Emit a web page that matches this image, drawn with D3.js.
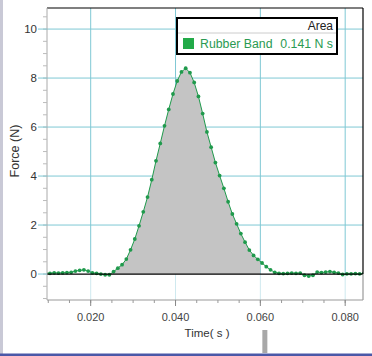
<!DOCTYPE html>
<html><head><meta charset="utf-8">
<script src="https://cdn.jsdelivr.net/npm/d3@7/dist/d3.min.js"></script>
<style>
html,body{margin:0;padding:0;background:#fff;}
svg{display:block;font-family:"Liberation Sans",Arial,sans-serif;}
</style></head>
<body>
<script>
// ---- data ----
const times = [0.0094,0.0104,0.0114,0.0124,0.0134,0.0144,0.0154,0.0164,0.0174,0.0184,
  0.0194,0.0204,0.0214,0.0224,0.0234,0.0244,0.0254,0.0264,0.0274,0.0284,
  0.0294,0.0304,0.0314,0.0324,0.0334,0.0344,0.0354,0.0364,0.0374,0.0384,
  0.0394,0.0404,0.0414,0.0424,0.0434,0.0444,0.0454,0.0464,0.0474,0.0484,
  0.0494,0.0504,0.0514,0.0524,0.0534,0.0544,0.0554,0.0564,0.0574,0.0584,
  0.0594,0.0604,0.0614,0.0624,0.0634,0.0644,0.0654,0.0664,0.0674,0.0684,
  0.0694,0.0704,0.0714,0.0724,0.0734,0.0744,0.0754,0.0764,0.0774,0.0784,
  0.0794,0.0804,0.0814,0.0824,0.0834,0.0844];
const force = [0.02,0.03,0.05,0.04,0.05,0.06,0.07,0.12,0.15,0.17,
  0.12,0.05,0.03,0.00,-0.03,-0.03,0.10,0.24,0.38,0.61,
  0.99,1.43,1.97,2.54,3.14,3.85,4.62,5.33,6.05,6.72,
  7.35,7.88,8.25,8.40,8.22,7.82,7.25,6.55,5.80,5.18,
  4.55,4.02,3.50,2.95,2.45,2.05,1.65,1.30,0.98,0.76,
  0.60,0.45,0.30,0.17,0.07,0.03,0.02,0.03,0.04,0.03,
  0.04,-0.05,-0.08,-0.05,0.08,0.06,0.08,0.10,0.07,0.04,
  -0.02,0.01,0.01,0.02,0.01,0.02];
const areaRange = [0.0244, 0.0600];
const xTicks = [0.020, 0.040, 0.060, 0.080];
const xTickLabels = ["0.020", "0.040", "0.060", "0.080"];
const yTicks = [0, 2, 4, 6, 8, 10];
const yTickLabels = ["0", "2", "4", "6", "8", "10"];
const seriesName = "Rubber Band";
const areaValue = "0.141 N s";
const legendTitle = "Area";
const xTitle = "Time( s )";
const yTitle = "Force (N)";

// ---- layout ----
const W = 372, H = 356;
const L = 47, R = 363, T = 8, B = 300;
const x = d3.scaleLinear().domain([0.0097, 0.0842]).range([L, R]);
const y = d3.scaleLinear().domain([-1.06, 10.86]).range([B, T]);
const data = times.map((t, i) => ({t, f: force[i]}));

const svg = d3.select("body").append("svg").attr("width", W).attr("height", H);
svg.append("rect").attr("width", W).attr("height", H).attr("fill", "#fff");

svg.append("defs").append("clipPath").attr("id", "plotclip")
  .append("rect").attr("x", L).attr("y", T).attr("width", R - L).attr("height", B - T);
svg.select("defs").append("clipPath").attr("id", "areaclip")
  .append("rect").attr("x", x(areaRange[0])).attr("y", T)
  .attr("width", x(areaRange[1]) - x(areaRange[0])).attr("height", B - T);

const gridColor = "#7fc8d4";
const plot = svg.append("g").attr("clip-path", "url(#plotclip)");

// vertical gridlines
plot.selectAll("line.vg").data(xTicks).join("line")
  .attr("x1", d => x(d)).attr("x2", d => x(d))
  .attr("y1", T).attr("y2", y(0)).attr("stroke", gridColor).attr("stroke-width", 1);
plot.selectAll("line.vg2").data(xTicks).join("line")
  .attr("x1", d => x(d)).attr("x2", d => x(d))
  .attr("y1", y(0)).attr("y2", B).attr("stroke", "#cfe9ef").attr("stroke-width", 1);
// horizontal gridlines
plot.selectAll("line.hg").data(yTicks.filter(d => d !== 0)).join("line")
  .attr("x1", L).attr("x2", R)
  .attr("y1", d => y(d)).attr("y2", d => y(d)).attr("stroke", gridColor).attr("stroke-width", 1);

// gray integral area
const inArea = data.filter(d => d.t >= areaRange[0] - 1e-9 && d.t <= areaRange[1] + 0.001);
plot.append("path").datum(inArea)
  .attr("clip-path", "url(#areaclip)")
  .attr("d", d3.area().x(d => x(d.t)).y0(y(0)).y1(d => y(d.f)))
  .attr("fill", "#c4c4c4");

// baseline
svg.append("line").attr("x1", L).attr("x2", R).attr("y1", y(0)).attr("y2", y(0))
  .attr("stroke", "#000").attr("stroke-width", 1.2);

// line + points
const green = "#1f9a4c";
plot.append("path").datum(data)
  .attr("d", d3.line().x(d => x(d.t)).y(d => y(d.f)))
  .attr("fill", "none").attr("stroke", green).attr("stroke-width", 1);
plot.selectAll("circle").data(data).join("circle")
  .attr("cx", d => x(d.t)).attr("cy", d => y(d.f)).attr("r", 1.9).attr("fill", green);

// frame
svg.append("line").attr("x1", L).attr("x2", R).attr("y1", T).attr("y2", T).attr("stroke", "#000").attr("stroke-width", 1.2);
svg.append("line").attr("x1", R).attr("x2", R).attr("y1", T).attr("y2", y(0)).attr("stroke", "#000").attr("stroke-width", 1.2);
svg.append("line").attr("x1", R).attr("x2", R).attr("y1", y(0)).attr("y2", B).attr("stroke", "#999").attr("stroke-width", 1.2);
svg.append("line").attr("x1", L).attr("x2", L).attr("y1", T).attr("y2", B).attr("stroke", "#aaa").attr("stroke-width", 1);
svg.append("line").attr("x1", L).attr("x2", R).attr("y1", B).attr("y2", B).attr("stroke", "#999").attr("stroke-width", 1.2);

// x axis ticks
const xMinor = d3.range(0.010, 0.0842, 0.005).filter(v => v >= x.domain()[0]);
svg.selectAll("line.xmin").data(xMinor).join("line")
  .attr("x1", d => x(d)).attr("x2", d => x(d)).attr("y1", B).attr("y2", B + 3)
  .attr("stroke", "#999");
svg.selectAll("line.xmaj").data(xTicks).join("line")
  .attr("x1", d => x(d)).attr("x2", d => x(d)).attr("y1", B).attr("y2", B + 6)
  .attr("stroke", "#888");
svg.selectAll("text.xt").data(xTicks).join("text")
  .attr("x", d => x(d)).attr("y", 321).attr("text-anchor", "middle")
  .attr("font-size", 11).attr("fill", "#444")
  .text((d, i) => xTickLabels[i]);
svg.append("text").attr("x", (L + R) / 2 + 2).attr("y", 337).attr("text-anchor", "middle")
  .attr("font-size", 11.5).attr("fill", "#333").style("white-space", "pre").text(xTitle);

// y axis ticks
const yMinor = d3.range(-1, 10.86, 0.5);
svg.selectAll("line.ymin").data(yMinor).join("line")
  .attr("x1", L - 4).attr("x2", L).attr("y1", d => y(d)).attr("y2", d => y(d))
  .attr("stroke", "#bbb");
svg.selectAll("line.ymaj").data(yTicks).join("line")
  .attr("x1", L - 9).attr("x2", L).attr("y1", d => y(d)).attr("y2", d => y(d))
  .attr("stroke", gridColor);
svg.selectAll("text.yt").data(yTicks).join("text")
  .attr("x", 37).attr("y", d => y(d) + 4).attr("text-anchor", "end")
  .attr("font-size", 11.5).attr("fill", "#333")
  .text((d, i) => yTickLabels[i]);
svg.append("text").attr("transform", `translate(19,${(T + B) / 2 - 3}) rotate(-90)`)
  .attr("text-anchor", "middle").attr("font-size", 12.5).attr("fill", "#333").text(yTitle);

// legend
const lg = svg.append("g");
lg.append("rect").attr("x", 177).attr("y", 18).attr("width", 160).attr("height", 36)
  .attr("fill", "#fff").attr("stroke", "#000").attr("stroke-width", 2);
lg.append("line").attr("x1", 178).attr("x2", 336).attr("y1", 33).attr("y2", 33)
  .attr("stroke", "#ccc").attr("stroke-width", 1);
lg.append("text").attr("x", 333).attr("y", 30).attr("text-anchor", "end")
  .attr("font-size", 12).attr("fill", "#222").text(legendTitle);
lg.append("rect").attr("x", 183).attr("y", 38).attr("width", 11).attr("height", 11).attr("fill", "#22aa48");
lg.append("text").attr("x", 200).attr("y", 47.5).attr("text-anchor", "start")
  .attr("font-size", 12.3).attr("fill", "#2a9a52").text(seriesName);
lg.append("text").attr("x", 333).attr("y", 47.5).attr("text-anchor", "end")
  .attr("font-size", 12.3).attr("fill", "#2a9a52").text(areaValue);

// window chrome
svg.append("rect").attr("x", 0).attr("y", 0).attr("width", 3).attr("height", H).attr("fill", "#c9c9d6");
svg.append("rect").attr("x", 0).attr("y", H - 2.5).attr("width", W).attr("height", 2.5).attr("fill", "#4a58a8");
svg.append("rect").attr("x", x(areaRange[1]) + 2).attr("y", 330).attr("width", 5).attr("height", H - 333).attr("fill", "#a8a8a8");
</script>
</body></html>
